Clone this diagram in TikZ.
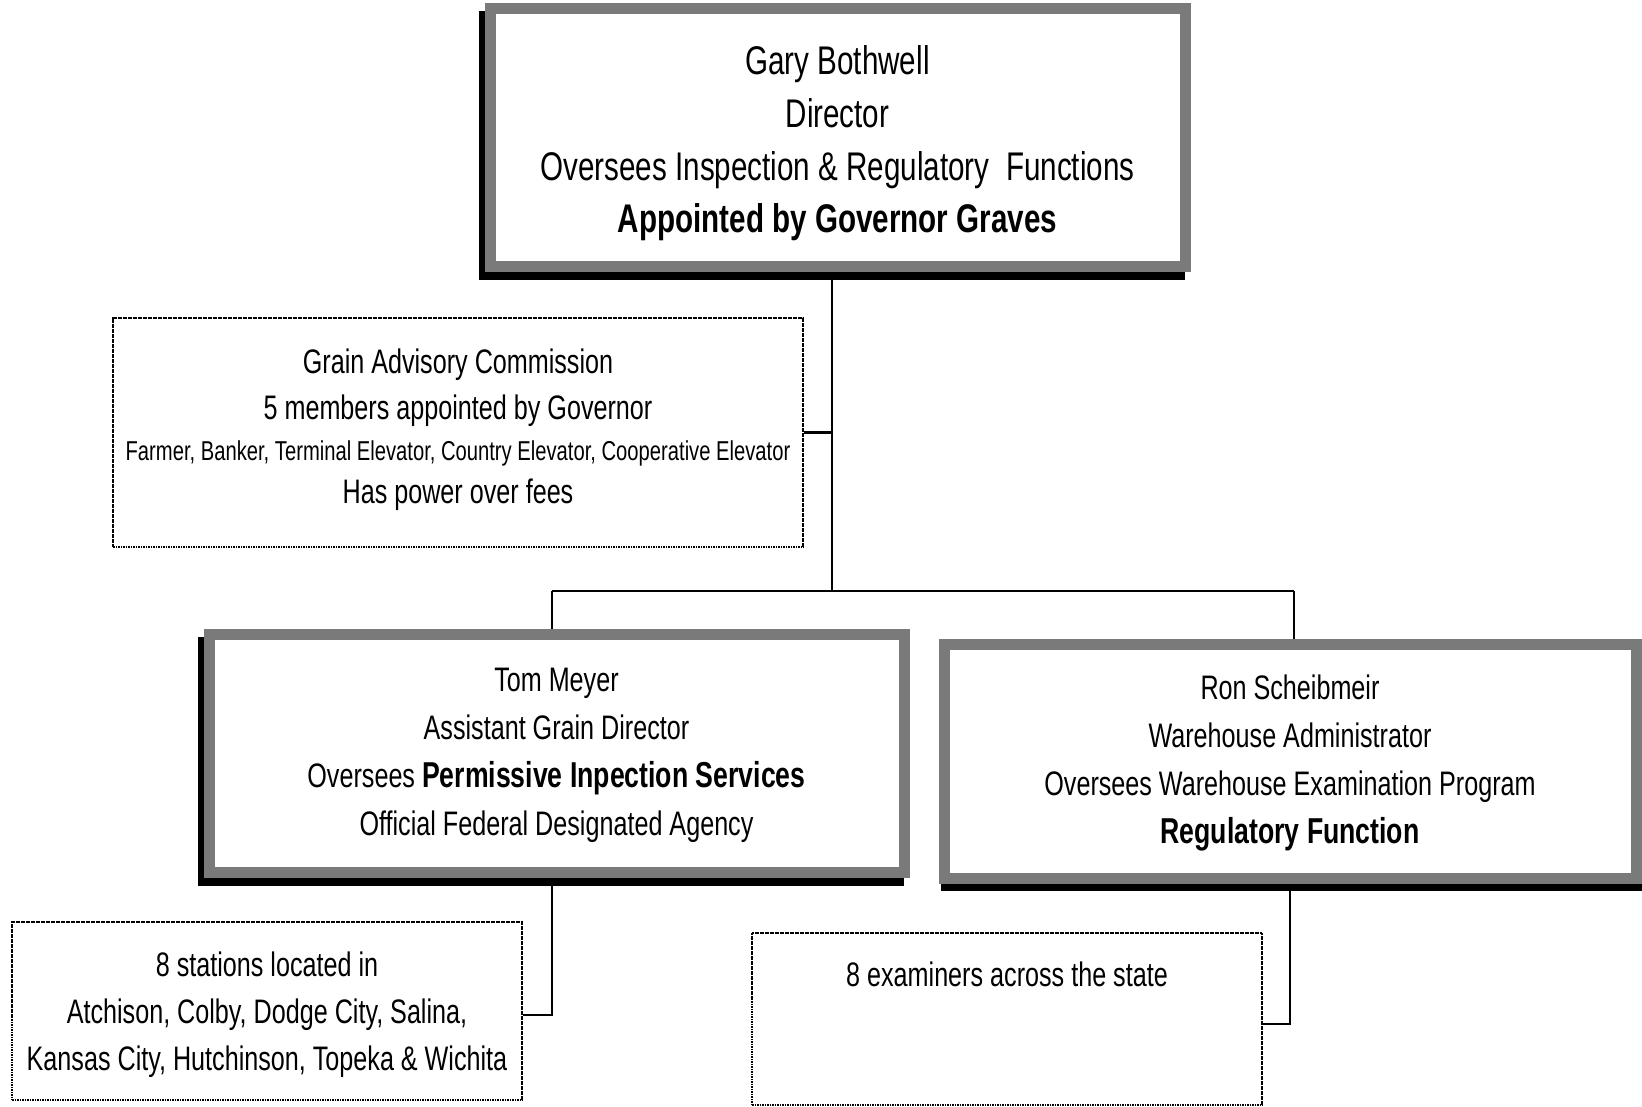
\documentclass[tikz,border=0pt]{standalone}
\usepackage{fontspec}
\setmainfont{Liberation Sans}[FakeStretch=0.74]
\usetikzlibrary{backgrounds}
\tikzset{
  heavybox/.style={draw=black!52, line width=11pt, fill=white, inner sep=0pt, align=center,
    preaction={draw=black, line width=11pt, transform canvas={shift={(#1)}}}},
  heavybox/.default={-6pt,-8pt},
  lightbox/.style={draw=black, line width=1.6pt, dash pattern=on 1.6pt off 0.9pt, fill=white, inner sep=0pt, align=center},
  conn/.style={draw=black, line width=2.8pt},
  txt/.style={inner sep=0pt, align=center},
}
\begin{document}
\begin{tikzpicture}[x=1pt,y=-1pt]
\useasboundingbox (0,0) rectangle (1642,1107);

\node[heavybox, minimum width=695pt, minimum height=258pt, font=\fontsize{40}{52.7}\selectfont] (top) at (837.5,138)
  {\rule{0pt}{40pt}Gary Bothwell\\Director\\Oversees Inspection \& Regulatory\ \ Functions\\\textbf{Appointed by Governor Graves}};

\node[lightbox, minimum width=690pt, minimum height=229pt, font=\fontsize{34}{46}\selectfont] (grain) at (458,432.5)
  {Grain Advisory Commission\\5 members appointed by Governor\\[-5pt]{\fontsize{27.3}{38}\selectfont Farmer, Banker, Terminal Elevator, Country Elevator, Cooperative Elevator}\\[-2.7pt]Has power over fees\rule[-13pt]{0pt}{1pt}};

\node[heavybox, minimum width=695pt, minimum height=238pt, font=\fontsize{34}{48}\selectfont] (tom) at (556.5,753)
  {\rule{0pt}{29pt}Tom Meyer\\Assistant Grain Director\\Oversees {\fontsize{36}{48}\selectfont\textbf{Permissive Inpection Services}}\\Official Federal Designated Agency};

\node[heavybox={2pt,-7pt}, minimum width=692pt, minimum height=234pt, font=\fontsize{34}{48}\selectfont] (ron) at (1290,761)
  {\rule{0pt}{29pt}Ron Scheibmeir\\Warehouse Administrator\\Oversees Warehouse Examination Program\\{\fontsize{36}{48}\selectfont\textbf{Regulatory Function}}};

\node[lightbox, minimum width=510pt, minimum height=178pt, font=\fontsize{34}{47}\selectfont] (stations) at (267,1011)
  {\rule{0pt}{33pt}8 stations located in\\Atchison, Colby, Dodge City, Salina,\\Kansas City, Hutchinson, Topeka \& Wichita};

\node[lightbox, minimum width=510pt, minimum height=172pt] (exam) at (1007,1019) {};
\node[txt, font=\fontsize{34}{47}\selectfont] (examtext) at (1007,974) {8 examiners across the state};

\coordinate (j1) at (832,591);
\coordinate (bl) at (552,591);
\coordinate (br) at (1294,591);
\coordinate (ts) at (552,1015);
\coordinate (re) at (1290,1024);

\begin{scope}[on background layer]
  \draw[conn] (top.south -| j1) -- (j1);
  \draw[conn] (grain.east) -- (grain.east -| j1);
  \draw[conn] (bl) -- (br);
  \draw[conn] (bl) -- (bl |- tom.north);
  \draw[conn] (br) -- (br |- ron.north);
  \draw[conn] (ts |- tom.south) -- (ts) -- (ts -| stations.east);
  \draw[conn] (re |- ron.south) -- (re) -- (re -| exam.east);
\end{scope}
\end{tikzpicture}
\end{document}
